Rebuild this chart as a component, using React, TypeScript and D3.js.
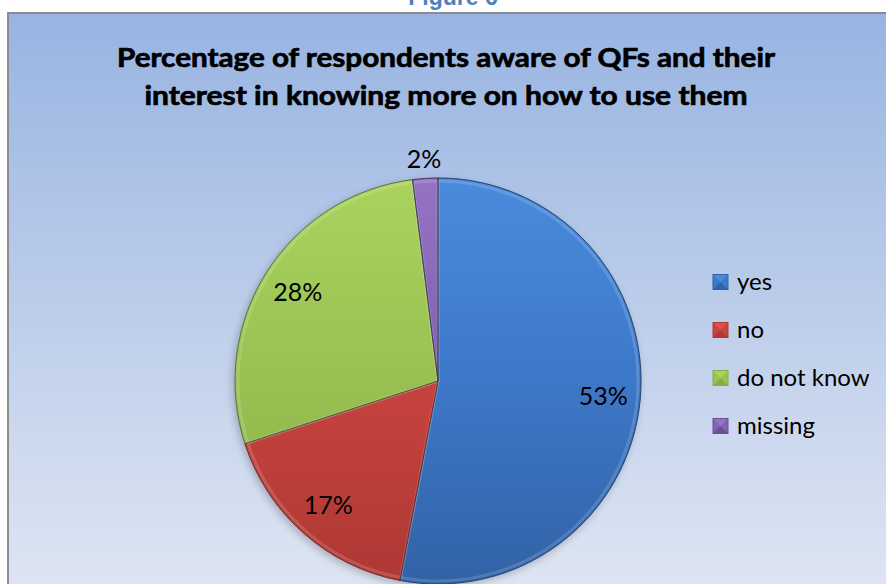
import React from "react";
import * as d3 from "d3";

const categories = ["yes", "no", "do not know", "missing"];
const values = [53, 17, 28, 2];
const valueLabels = ["53%", "17%", "28%", "2%"];
const titleLines = [
  "Percentage of respondents aware of QFs and their",
  "interest in knowing more on how to use them",
];
const figureLabel = "Figure 6";

const W = 886;
const H = 584;
const cx = 438;
const cy = 381;
const R = 203;

const topColors = ["#4A8ADC", "#DA524D", "#A9D35E", "#9573C4"];
const bottomColors = ["#3262A6", "#AE3834", "#89AD45", "#6C4E95"];
const baseColors = ["#3E7ACB", "#C9443F", "#9BC253", "#8163AF"];

const FONT = "Lato, 'Open Sans', 'DejaVu Sans', sans-serif";

export default function App() {
  const pie = d3
    .pie<number>()
    .sort(null)
    .value((d) => d)
    .startAngle(0)
    .endAngle(2 * Math.PI);
  const arcs = pie(values);
  const arcGen = d3.arc<d3.PieArcDatum<number>>().innerRadius(0).outerRadius(R);
  const bevelGen = d3
    .arc<d3.PieArcDatum<number>>()
    .innerRadius(0)
    .outerRadius(R - 3);
  const labelIn = d3.arc<d3.PieArcDatum<number>>().innerRadius(166).outerRadius(166);
  const labelOut = d3.arc<d3.PieArcDatum<number>>().innerRadius(222).outerRadius(222);

  const legendY = d3
    .scaleBand<string>()
    .domain(categories)
    .range([258, 450])
    .paddingInner(0);

  return (
    <svg
      width={W}
      height={H}
      style={{ position: "absolute", left: 0, top: 0, display: "block" }}
    >
      <defs>
        <linearGradient id="bg" x1="0" y1="0" x2="0" y2="1">
          <stop offset="0" stopColor="#98B4E2" />
          <stop offset="0.5" stopColor="#BCCDEA" />
          <stop offset="1" stopColor="#DFE6F3" />
        </linearGradient>
        {categories.map((c, i) => (
          <linearGradient
            key={c}
            id={`g${i}`}
            gradientUnits="userSpaceOnUse"
            x1={0}
            y1={-R}
            x2={0}
            y2={R}
          >
            <stop offset="0" stopColor={topColors[i]} />
            <stop offset="0.45" stopColor={baseColors[i]} />
            <stop offset="1" stopColor={bottomColors[i]} />
          </linearGradient>
        ))}
        <filter id="shadow" x="-20%" y="-20%" width="140%" height="140%">
          <feGaussianBlur in="SourceAlpha" stdDeviation="4" />
          <feOffset dx="-2" dy="3" result="b" />
          <feComponentTransfer>
            <feFuncA type="linear" slope="0.25" />
          </feComponentTransfer>
          <feMerge>
            <feMergeNode />
            <feMergeNode in="SourceGraphic" />
          </feMerge>
        </filter>
      </defs>

      <rect x={0} y={0} width={W} height={H} fill="#ffffff" />
      <text
        x={453}
        y={5}
        textAnchor="middle"
        fontFamily="'Liberation Sans', Arial, sans-serif"
        fontWeight="bold"
        fontSize={23}
        fill="#4F81BD"
      >
        {figureLabel}
      </text>
      <rect x={8} y={13} width={W} height={H} fill="url(#bg)" stroke="#8C8C8C" strokeWidth={2} />

      {titleLines.map((t, i) => (
        <text
          key={i}
          x={446}
          y={67 + i * 38}
          textAnchor="middle"
          fontFamily={FONT}
          fontWeight="bold"
          fontSize={27}
          fill="#000"
          stroke="#000"
          strokeWidth={0.7}
          textLength={i === 0 ? 658 : 603}
          lengthAdjust="spacingAndGlyphs"
        >
          {t}
        </text>
      ))}

      <g transform={`translate(${cx},${cy})`}>
        <g filter="url(#shadow)">
          {arcs.map((a, i) => (
            <path key={i} d={arcGen(a) || ""} fill={baseColors[i]} />
          ))}
        </g>
        {arcs.map((a, i) => (
          <g key={"s" + i}>
            <path d={arcGen(a) || ""} fill={`url(#g${i})`} stroke={bottomColors[i]} strokeWidth={1} />
            <path
              d={bevelGen(a) || ""}
              fill="none"
              stroke="#ffffff"
              strokeOpacity={0.15}
              strokeWidth={3}
            />
          </g>
        ))}
        {arcs.map((a, i) => (
          <path
            key={"o" + i}
            d={arcGen(a) || ""}
            fill="none"
            stroke="#1f2630"
            strokeOpacity={0.4}
            strokeWidth={1}
          />
        ))}
        {arcs.map((a, i) => {
          const outside = values[i] < 5;
          const [x, y] = (outside ? labelOut : labelIn).centroid(a);
          return (
            <text
              key={"t" + i}
              x={x}
              y={y}
              dy="0.35em"
              textAnchor="middle"
              fontFamily={FONT}
              fontSize={25}
              fill="#000"
            >
              {valueLabels[i]}
            </text>
          );
        })}
      </g>

      <g>
        {categories.map((c, i) => {
          const yc = (legendY(c) || 0) + legendY.bandwidth() / 2;
          const x0 = 713;
          const s = 15;
          const y0 = yc - s / 2;
          return (
            <g key={c}>
              <rect x={x0} y={y0} width={s} height={s} fill={baseColors[i]} />
              <polygon
                points={`${x0},${y0} ${x0 + s},${y0} ${x0 + s / 2},${y0 + s / 2}`}
                fill={topColors[i]}
              />
              <polygon
                points={`${x0},${y0 + s} ${x0 + s},${y0 + s} ${x0 + s / 2},${y0 + s / 2}`}
                fill={bottomColors[i]}
              />
              <rect
                x={x0}
                y={y0}
                width={s}
                height={s}
                fill="none"
                stroke={bottomColors[i]}
                strokeWidth={1}
              />
              <text
                x={737}
                y={yc}
                dy="0.35em"
                fontFamily={FONT}
                fontSize={24}
                fill="#000"
              >
                {c}
              </text>
            </g>
          );
        })}
      </g>
    </svg>
  );
}
